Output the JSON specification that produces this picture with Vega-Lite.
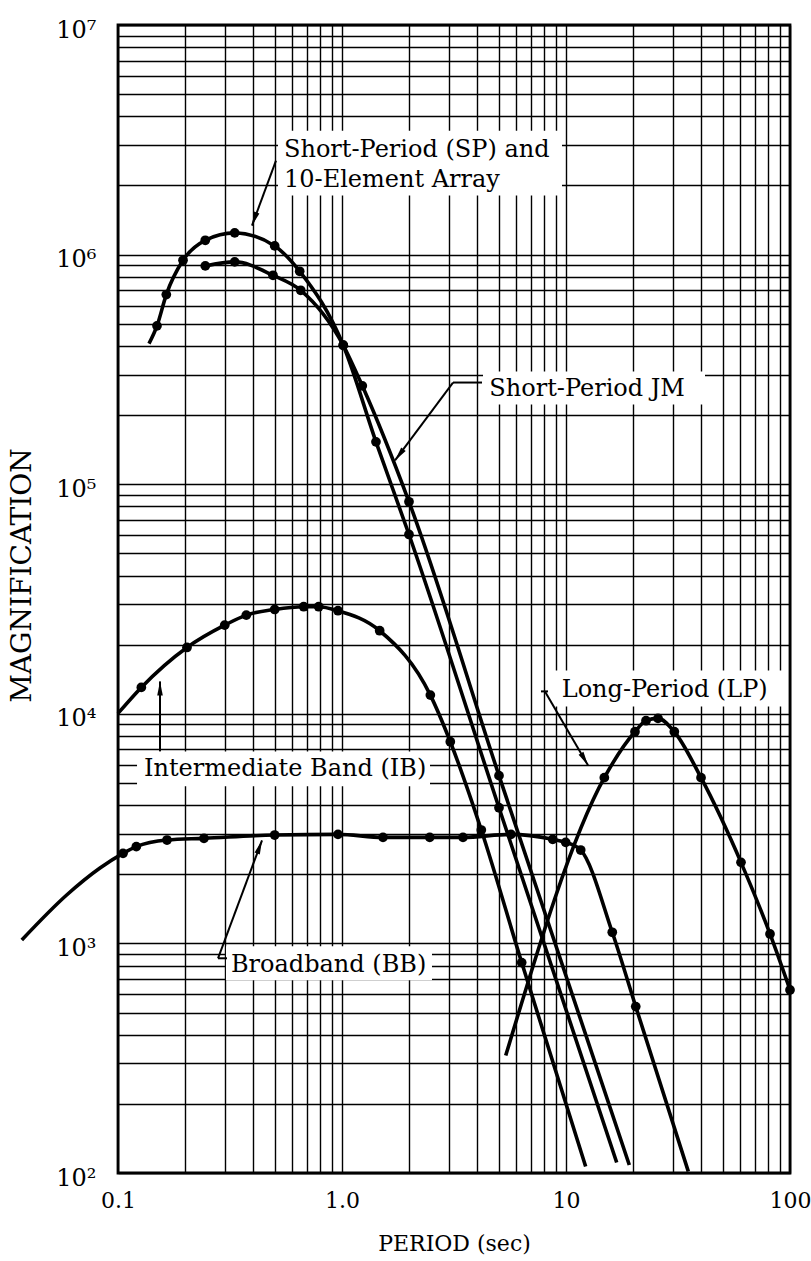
{
  "$schema": "https://vega.github.io/schema/vega-lite/v6.json",
  "width": 672,
  "height": 1148,
  "autosize": {"type": "none"},
  "padding": {"left": 118, "top": 25, "right": 21, "bottom": 88},
  "background": "#ffffff",
  "config": {
    "view": {"stroke": "#000000", "strokeWidth": 2.8},
    "font": "DejaVu Serif"
  },
  "datasets": {
    "curves": [
      {"series": "SP", "period": 0.1375, "mag": 409700, "dot": false},
      {"series": "SP", "period": 0.1493, "mag": 489300, "dot": true},
      {"series": "SP", "period": 0.1643, "mag": 669600, "dot": true},
      {"series": "SP", "period": 0.1951, "mag": 944500, "dot": true},
      {"series": "SP", "period": 0.2453, "mag": 1154000, "dot": true},
      {"series": "SP", "period": 0.3319, "mag": 1243000, "dot": true},
      {"series": "SP", "period": 0.5006, "mag": 1091000, "dot": true},
      {"series": "SP", "period": 0.6473, "mag": 845800, "dot": true},
      {"series": "SP", "period": 1.013, "mag": 402900, "dot": true},
      {"series": "SP", "period": 1.418, "mag": 152950, "dot": true},
      {"series": "SP", "period": 1.991, "mag": 60390, "dot": true},
      {"series": "SP", "period": 5.022, "mag": 3899, "dot": true},
      {"series": "SP", "period": 16.84, "mag": 111.1, "dot": false},
      {"series": "JM", "period": 0.2453, "mag": 892800, "dot": true},
      {"series": "JM", "period": 0.3319, "mag": 929400, "dot": true},
      {"series": "JM", "period": 0.492, "mag": 812500, "dot": true},
      {"series": "JM", "period": 0.654, "mag": 699000, "dot": true},
      {"series": "JM", "period": 1.013, "mag": 402900, "dot": true},
      {"series": "JM", "period": 1.232, "mag": 268200, "dot": true},
      {"series": "JM", "period": 1.991, "mag": 83830, "dot": true},
      {"series": "JM", "period": 5.022, "mag": 5377, "dot": true},
      {"series": "JM", "period": 19.17, "mag": 108.4, "dot": false},
      {"series": "IB", "period": 0.1, "mag": 10040, "dot": false},
      {"series": "IB", "period": 0.1271, "mag": 13030, "dot": true},
      {"series": "IB", "period": 0.2032, "mag": 19450, "dot": true},
      {"series": "IB", "period": 0.2995, "mag": 24330, "dot": true},
      {"series": "IB", "period": 0.3739, "mag": 26900, "dot": true},
      {"series": "IB", "period": 0.5006, "mag": 28480, "dot": true},
      {"series": "IB", "period": 0.6746, "mag": 29270, "dot": true},
      {"series": "IB", "period": 0.787, "mag": 29270, "dot": true},
      {"series": "IB", "period": 0.9597, "mag": 28110, "dot": true},
      {"series": "IB", "period": 1.473, "mag": 23000, "dot": true},
      {"series": "IB", "period": 2.48, "mag": 12060, "dot": true},
      {"series": "IB", "period": 3.044, "mag": 7558, "dot": true},
      {"series": "IB", "period": 4.187, "mag": 3117, "dot": true},
      {"series": "IB", "period": 6.342, "mag": 825, "dot": true},
      {"series": "IB", "period": 12.24, "mag": 106.7, "dot": false},
      {"series": "BB", "period": 0.0372, "mag": 1035, "dot": false},
      {"series": "BB", "period": 0.059, "mag": 1625, "dot": false},
      {"series": "BB", "period": 0.0831, "mag": 2130, "dot": false},
      {"series": "BB", "period": 0.1053, "mag": 2467, "dot": true},
      {"series": "BB", "period": 0.1207, "mag": 2639, "dot": true},
      {"series": "BB", "period": 0.1655, "mag": 2819, "dot": true},
      {"series": "BB", "period": 0.242, "mag": 2867, "dot": true},
      {"series": "BB", "period": 0.5006, "mag": 2965, "dot": true},
      {"series": "BB", "period": 0.9597, "mag": 2985, "dot": true},
      {"series": "BB", "period": 1.524, "mag": 2897, "dot": true},
      {"series": "BB", "period": 2.464, "mag": 2897, "dot": true},
      {"series": "BB", "period": 3.469, "mag": 2897, "dot": true},
      {"series": "BB", "period": 5.682, "mag": 2985, "dot": true},
      {"series": "BB", "period": 8.721, "mag": 2839, "dot": true},
      {"series": "BB", "period": 9.97, "mag": 2755, "dot": true},
      {"series": "BB", "period": 11.63, "mag": 2550, "dot": true},
      {"series": "BB", "period": 16.09, "mag": 1118, "dot": true},
      {"series": "BB", "period": 20.48, "mag": 530.7, "dot": true},
      {"series": "BB", "period": 35.16, "mag": 101.5, "dot": false},
      {"series": "LP", "period": 5.381, "mag": 324.7, "dot": false},
      {"series": "LP", "period": 14.83, "mag": 5270, "dot": true},
      {"series": "LP", "period": 20.32, "mag": 8356, "dot": true},
      {"series": "LP", "period": 22.76, "mag": 9332, "dot": true},
      {"series": "LP", "period": 25.75, "mag": 9550, "dot": true},
      {"series": "LP", "period": 30.45, "mag": 8356, "dot": true},
      {"series": "LP", "period": 40.07, "mag": 5270, "dot": true},
      {"series": "LP", "period": 60.43, "mag": 2254, "dot": true},
      {"series": "LP", "period": 81.42, "mag": 1099, "dot": true},
      {"series": "LP", "period": 100, "mag": 627, "dot": true}
    ],
    "boxes": [
      {"box": "SP", "period": 0.5179, "period2": 9.597, "mag": 3466000, "mag2": 1807000},
      {"box": "JM", "period": 4.261, "period2": 41.74, "mag": 309500, "mag2": 222300},
      {"box": "IB", "period": 0.1216, "period2": 2.471, "mag": 6860, "mag2": 4830},
      {"box": "BB", "period": 0.3034, "period2": 2.522, "mag": 971.5, "mag2": 690.8},
      {"box": "LP", "period": 8.313, "period2": 93.07, "mag": 15450, "mag2": 10770}
    ],
    "arrows": [
      {"arrow": "SP", "period": 0.5073, "mag": 2566000, "period2": 0.3964, "mag2": 1337700},
      {"arrow": "JM", "period": 4.217, "mag": 277200, "period2": 3.13, "mag2": 277200},
      {"arrow": "JM", "period": 3.13, "mag": 277200, "period2": 1.7245, "mag2": 126900},
      {"arrow": "IB", "period": 0.154, "mag": 6860, "period2": 0.154, "mag2": 13840},
      {"arrow": "BB", "period": 0.2796, "mag": 861.3, "period2": 0.3066, "mag2": 861.3},
      {"arrow": "BB", "period": 0.2796, "mag": 861.3, "period2": 0.4394, "mag2": 2811},
      {"arrow": "LP", "period": 7.733, "mag": 12520, "period2": 8.313, "mag2": 12520},
      {"arrow": "LP", "period": 8.057, "mag": 12520, "period2": 12.54, "mag2": 5963}
    ],
    "heads": [
      {"arrow": "SP", "period": 0.3964, "mag": 1337700},
      {"arrow": "JM", "period": 1.7245, "mag": 126900},
      {"arrow": "IB", "period": 0.154, "mag": 13840},
      {"arrow": "BB", "period": 0.4394, "mag": 2811},
      {"arrow": "LP", "period": 12.54, "mag": 5963}
    ],
    "labels": [
      {"text": "Short-Period (SP) and", "period": 0.551, "mag": 2671000},
      {"text": "10-Element Array", "period": 0.551, "mag": 1977000},
      {"text": "Short-Period JM", "period": 4.546, "mag": 243300},
      {"text": "Intermediate Band (IB)", "period": 0.1306, "mag": 5340},
      {"text": "Broadband (BB)", "period": 0.3194, "mag": 748.5},
      {"text": "Long-Period (LP)", "period": 9.567, "mag": 11790}
    ]
  },
  "encoding": {
    "x": {
      "field": "period",
      "type": "quantitative",
      "scale": {"type": "log", "domain": [0.1, 100], "nice": false},
      "axis": {
        "title": "PERIOD (sec)",
        "values": [0.1, 0.2, 0.3, 0.4, 0.5, 0.6, 0.7, 0.8, 0.9, 1, 2, 3, 4, 5, 6, 7, 8, 9, 10, 20, 30, 40, 50, 60, 70, 80, 90, 100],
        "labelExpr": "datum.value == 0.1 ? '0.1' : datum.value == 1 ? '1.0' : datum.value == 10 ? '10' : datum.value == 100 ? '100' : ''",
        "grid": true,
        "gridColor": "#000000",
        "gridWidth": 1.4,
        "gridOpacity": 1,
        "ticks": false,
        "tickSize": 0,
        "domain": false,
        "labelFont": "DejaVu Serif",
        "labelFontSize": 22,
        "labelColor": "#000000",
        "labelPadding": 17,
        "labelOverlap": false,
        "labelFlush": false,
        "titleFont": "DejaVu Serif",
        "titleFontSize": 22,
        "titleFontWeight": "normal",
        "titleColor": "#000000",
        "titleY": 70,
        "titleBaseline": "middle"
      }
    },
    "y": {
      "field": "mag",
      "type": "quantitative",
      "scale": {"type": "log", "domain": [100, 10000000], "nice": false},
      "axis": {
        "title": "MAGNIFICATION",
        "values": [100, 200, 300, 400, 500, 600, 700, 800, 900, 1000, 2000, 3000, 4000, 5000, 6000, 7000, 8000, 9000, 10000, 20000, 30000, 40000, 50000, 60000, 70000, 80000, 90000, 100000, 200000, 300000, 400000, 500000, 600000, 700000, 800000, 900000, 1000000, 2000000, 3000000, 4000000, 5000000, 6000000, 7000000, 8000000, 9000000, 10000000],
        "labelExpr": "datum.value == 100 ? '10²' : datum.value == 1000 ? '10³' : datum.value == 10000 ? '10⁴' : datum.value == 100000 ? '10⁵' : datum.value == 1000000 ? '10⁶' : datum.value == 10000000 ? '10⁷' : ''",
        "grid": true,
        "gridColor": "#000000",
        "gridWidth": 1.4,
        "gridOpacity": 1,
        "ticks": false,
        "tickSize": 0,
        "domain": false,
        "labelFont": "DejaVu Serif",
        "labelFontSize": 24,
        "labelColor": "#000000",
        "labelPadding": 22,
        "labelBaseline": "middle",
        "labelOffset": 5,
        "labelOverlap": false,
        "labelFlush": false,
        "titleFont": "DejaVu Serif",
        "titleFontSize": 28,
        "titleFontWeight": "normal",
        "titleColor": "#000000",
        "titleAngle": 270,
        "titleX": -96,
        "titleY": 550,
        "titleAlign": "center",
        "titleBaseline": "middle"
      }
    }
  },
  "layer": [
    {
      "data": {"name": "boxes"},
      "mark": {"type": "rect", "fill": "#ffffff", "strokeWidth": 0},
      "encoding": {
        "x2": {"field": "period2"},
        "y2": {"field": "mag2"}
      }
    },
    {
      "data": {"name": "curves"},
      "mark": {"type": "line", "color": "#000000", "strokeWidth": 3.6, "interpolate": "monotone", "clip": false},
      "encoding": {
        "detail": {"field": "series", "type": "nominal"}
      }
    },
    {
      "data": {"name": "curves"},
      "transform": [{"filter": "datum.dot"}],
      "mark": {"type": "circle", "color": "#000000", "size": 95, "opacity": 1}
    },
    {
      "data": {"name": "arrows"},
      "mark": {"type": "rule", "color": "#000000", "strokeWidth": 2},
      "encoding": {
        "x2": {"field": "period2"},
        "y2": {"field": "mag2"}
      }
    },
    {
      "data": {"name": "heads"},
      "transform": [{"filter": "datum.arrow == 'SP'"}],
      "mark": {"type": "point", "shape": "M0,0L0.4,2L-0.4,2Z", "filled": true, "color": "#000000", "opacity": 1, "size": 196, "angle": 200}
    },
    {
      "data": {"name": "heads"},
      "transform": [{"filter": "datum.arrow == 'JM'"}],
      "mark": {"type": "point", "shape": "M0,0L0.4,2L-0.4,2Z", "filled": true, "color": "#000000", "opacity": 1, "size": 196, "angle": 217}
    },
    {
      "data": {"name": "heads"},
      "transform": [{"filter": "datum.arrow == 'IB'"}],
      "mark": {"type": "point", "shape": "M0,0L0.4,2L-0.4,2Z", "filled": true, "color": "#000000", "opacity": 1, "size": 196, "angle": 0}
    },
    {
      "data": {"name": "heads"},
      "transform": [{"filter": "datum.arrow == 'BB'"}],
      "mark": {"type": "point", "shape": "M0,0L0.4,2L-0.4,2Z", "filled": true, "color": "#000000", "opacity": 1, "size": 196, "angle": 20}
    },
    {
      "data": {"name": "heads"},
      "transform": [{"filter": "datum.arrow == 'LP'"}],
      "mark": {"type": "point", "shape": "M0,0L0.4,2L-0.4,2Z", "filled": true, "color": "#000000", "opacity": 1, "size": 196, "angle": 150}
    },
    {
      "data": {"name": "labels"},
      "mark": {"type": "text", "align": "left", "baseline": "alphabetic", "font": "DejaVu Serif", "fontSize": 24, "color": "#000000"},
      "encoding": {
        "text": {"field": "text", "type": "nominal"}
      }
    }
  ]
}
